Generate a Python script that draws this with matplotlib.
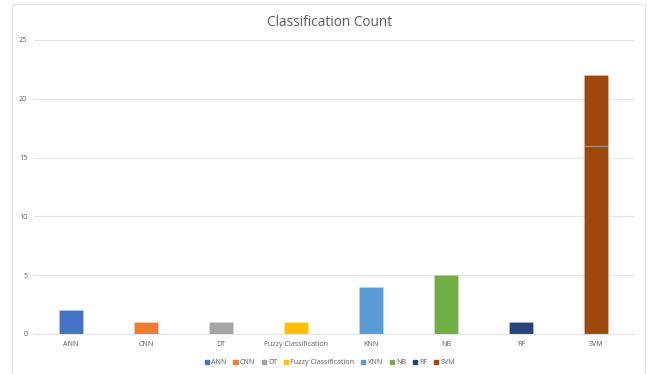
import matplotlib.pyplot as plt
from matplotlib.patches import Rectangle

# classifier counts; SVM is split over two stacked entries
classifiers = ['ANN', 'CNN', 'DT', 'Fuzzy Classification', 'KNN', 'NB', 'RF', 'SVM']
counts = [2, 1, 1, 1, 4, 5, 1, 16]
extra_counts = [0, 0, 0, 0, 0, 0, 0, 6]
colors = ['#4472C4', '#ED7D31', '#A5A5A5', '#FFC000',
          '#5B9BD5', '#70AD47', '#264478', '#9E480E']
yticks = [0, 5, 10, 15, 20, 25]

plt.rcParams['font.family'] = ['Open Sans', 'DejaVu Sans']
text_col = '#595959'
grid_col = '#E4E4E4'
small = 5.1

fig = plt.figure(figsize=(6.5, 3.74), dpi=100)
ax = fig.add_axes([33.5 / 650, 1 - 334 / 374, 600 / 650, 294 / 374])

# chart frame
fig.add_artist(Rectangle((12 / 650, -0.01), 633 / 650, 1 - 4 / 374 + 0.01,
                         transform=fig.transFigure, fill=False,
                         edgecolor=grid_col, linewidth=0.8))

x = range(len(classifiers))
width = 0.31
for i, name in enumerate(classifiers):
    ax.bar(i, counts[i], width, color=colors[i], label=name,
           edgecolor='#ffffff40', linewidth=0.4)
    if extra_counts[i]:
        ax.bar(i, extra_counts[i], width, bottom=counts[i], color=colors[i],
               edgecolor='#ffffff40', linewidth=0.4)

ax.set_xlim(-0.5, len(classifiers) - 0.5)
ax.set_ylim(0, 25)
ax.set_yticks(yticks)
ax.set_xticks(list(x))
ax.set_xticklabels(classifiers)
ax.grid(axis='y', color=grid_col, linewidth=0.8)
ax.set_axisbelow(True)
for s in ['top', 'right', 'left']:
    ax.spines[s].set_visible(False)
ax.spines['bottom'].set_color(grid_col)
ax.spines['bottom'].set_linewidth(0.8)
ax.tick_params(axis='both', length=0, labelsize=small, labelcolor=text_col)
ax.tick_params(axis='y', pad=4.5)
ax.tick_params(axis='x', pad=5.2)

fig.text(329.5 / 650, 1 - 22.5 / 374, 'Classification Count', ha='center',
         va='center', fontsize=9.8, color=text_col)

handles = [Rectangle((0, 0), 1, 1, color=c) for c in colors]
fig.legend(handles, classifiers, loc='center',
           bbox_to_anchor=(330 / 650, 1 - 363 / 374),
           ncol=len(classifiers), frameon=False, fontsize=small,
           handlelength=0.6, handleheight=0.6, handletextpad=0.3,
           columnspacing=0.95, labelcolor=text_col)

fig.savefig('out.png', dpi=100)
